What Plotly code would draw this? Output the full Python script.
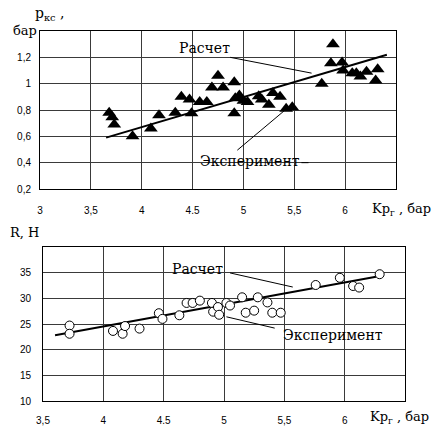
import plotly.graph_objects as go

# ---- Top chart: p_кс vs Kp_г ----
top_exp_x = [3.68, 3.71, 3.73, 3.91, 4.09, 4.17, 4.33, 4.49, 4.39, 4.47, 4.57, 4.64,
             4.69, 4.75, 4.80, 4.91, 4.92, 4.96, 5.00, 5.04, 4.91, 5.15, 5.18, 5.29,
             5.36, 5.25, 5.42, 5.48, 5.77, 5.86, 5.88, 5.97, 5.98, 6.07, 6.11, 6.15,
             6.21, 6.32, 6.30]
top_exp_y = [0.78, 0.745, 0.69, 0.60, 0.66, 0.76, 0.78, 0.775, 0.90, 0.88, 0.86, 0.86,
             0.97, 1.06, 0.97, 1.01, 0.89, 0.91, 0.87, 0.86, 0.775, 0.905, 0.88, 0.93,
             0.90, 0.84, 0.81, 0.82, 1.00, 1.155, 1.30, 1.16, 1.10, 1.08, 1.08, 1.055,
             1.09, 1.11, 1.025]
top_calc_x = [3.65, 6.41]
top_calc_y = [0.59, 1.22]
top_yticks = [0.2, 0.4, 0.6, 0.8, 1.0, 1.2]
top_ytext = ["0,2", "0,4", "0,6", "0,8", "1", "1,2"]
top_xticks = [3, 3.5, 4, 4.5, 5, 5.5, 6]
top_xtext = ["3", "3,5", "4", "4.5", "5", "5,5", "6"]

# ---- Bottom chart: R vs Kp_г ----
bot_exp_x = [3.72, 3.72, 4.08, 4.16, 4.18, 4.30, 4.46, 4.49, 4.63, 4.69, 4.74, 4.80,
             4.90, 4.91, 4.95, 4.96, 5.02, 5.05, 5.15, 5.18, 5.25, 5.28, 5.36, 5.40,
             5.47, 5.76, 5.96, 6.07, 6.12, 6.29]
bot_exp_y = [24.7, 23.1, 23.65, 23.1, 24.6, 24.1, 27.1, 26.0, 26.7, 29.1, 29.1, 29.55,
             29.1, 27.4, 28.3, 26.8, 29.1, 28.6, 30.2, 27.2, 27.6, 30.2, 29.2, 27.2,
             27.2, 32.6, 34.0, 32.4, 32.1, 34.7]
bot_calc_x = [3.6, 6.26]
bot_calc_y = [22.8, 34.2]
bot_yticks = [10, 15, 20, 25, 30, 35]
bot_ytext = ["10", "15", "20", "25", "30", "35"]
bot_xticks = [3.5, 4, 4.5, 5, 5.5, 6]
bot_xtext = ["3,5", "4", "4.5", "5", "5,5", "6"]

W, H = 441, 427
def px(x):
    return x / W
def py(y):
    return 1 - y / H

SERIF = "DejaVu Serif"
SANS = "Liberation Sans"

fig = go.Figure()
fig.add_trace(go.Scatter(x=top_exp_x, y=top_exp_y, mode="markers", xaxis="x", yaxis="y",
                         marker=dict(symbol="triangle-up", size=12, color="black",
                                     line=dict(width=0)), showlegend=False))
fig.add_trace(go.Scatter(x=top_calc_x, y=top_calc_y, mode="lines", xaxis="x", yaxis="y",
                         line=dict(color="black", width=2), showlegend=False))
fig.add_trace(go.Scatter(x=bot_calc_x, y=bot_calc_y, mode="lines", xaxis="x2", yaxis="y2",
                         line=dict(color="black", width=2), showlegend=False))
fig.add_trace(go.Scatter(x=bot_exp_x, y=bot_exp_y, mode="markers", xaxis="x2", yaxis="y2",
                         marker=dict(symbol="circle", size=9, color="white",
                                     line=dict(width=1, color="black")), showlegend=False))

ax_common = dict(showgrid=True, gridcolor="#3a3a3a", gridwidth=1, zeroline=False,
                 showline=True, linecolor="black", linewidth=1, mirror=True,
                 automargin=False,
                 ticks="", tickfont=dict(family=SANS, size=10, color="black"))

fig.update_layout(
    width=W, height=H, margin=dict(l=0, r=0, t=0, b=0, pad=0, autoexpand=False),
    plot_bgcolor="white", paper_bgcolor="white",
    xaxis=dict(domain=[px(40), px(396)], range=[3, 6.5], anchor="y",
               tickvals=top_xticks, ticktext=top_xtext, ticklabelstandoff=12, **ax_common),
    yaxis=dict(domain=[py(189), py(31)], range=[0.2, 1.4], anchor="x",
               tickvals=top_yticks, ticktext=top_ytext, ticklabelstandoff=6,
               **ax_common),
    xaxis2=dict(domain=[px(43), px(405)], range=[3.5, 6.5], anchor="y2",
                tickvals=bot_xticks, ticktext=bot_xtext, ticklabelstandoff=10, **ax_common),
    yaxis2=dict(domain=[py(401), py(247)], range=[10, 40], anchor="x2",
                tickvals=bot_yticks, ticktext=bot_ytext, ticklabelstandoff=9,
                **ax_common),
)

ann = []
def label(x, y, text, xanchor="center", size=13, xref="paper", yref="paper"):
    ann.append(dict(x=x, y=y, xref=xref, yref=yref, text=text, showarrow=False,
                    xanchor=xanchor, yanchor="middle", borderpad=0,
                    font=dict(family=SERIF, size=size, color="black")))

# axis titles
label(px(34), py(14), "p<sub>кс</sub> ,", xanchor="left", size=14)
label(px(38), py(31), "бар", xanchor="right", size=13)
label(px(371), py(209), "Kp<sub>г</sub> , бар", xanchor="left", size=13)
label(px(9), py(232), "R, H", xanchor="left", size=13)
label(px(369), py(417), "Kp<sub>г</sub> , бар", xanchor="left", size=13)
# in-plot labels
label(4.62, 1.27, "Расчет", xref="x", yref="y", size=14)
label(5.06, 0.41, "Эксперимент", xref="x", yref="y", size=14)
label(4.78, 35.7, "Расчет", xref="x2", yref="y2", size=14)
label(5.90, 22.9, "Эксперимент", xref="x2", yref="y2", size=14)
fig.update_layout(annotations=ann)

def seg(x0, y0, x1, y1, xr, yr):
    return dict(type="line", x0=x0, y0=y0, x1=x1, y1=y1, xref=xr, yref=yr,
                line=dict(color="black", width=1))

fig.update_layout(shapes=[
    seg(4.87, 1.20, 5.67, 1.08, "x", "y"),
    seg(4.94, 0.495, 5.41, 0.80, "x", "y"),
    seg(5.57, 0.40, 5.64, 0.40, "x", "y"),
    seg(5.05, 34.95, 5.57, 32.2, "x2", "y2"),
    seg(5.02, 26.4, 5.42, 24.2, "x2", "y2"),
])

fig.write_html("out.html")
